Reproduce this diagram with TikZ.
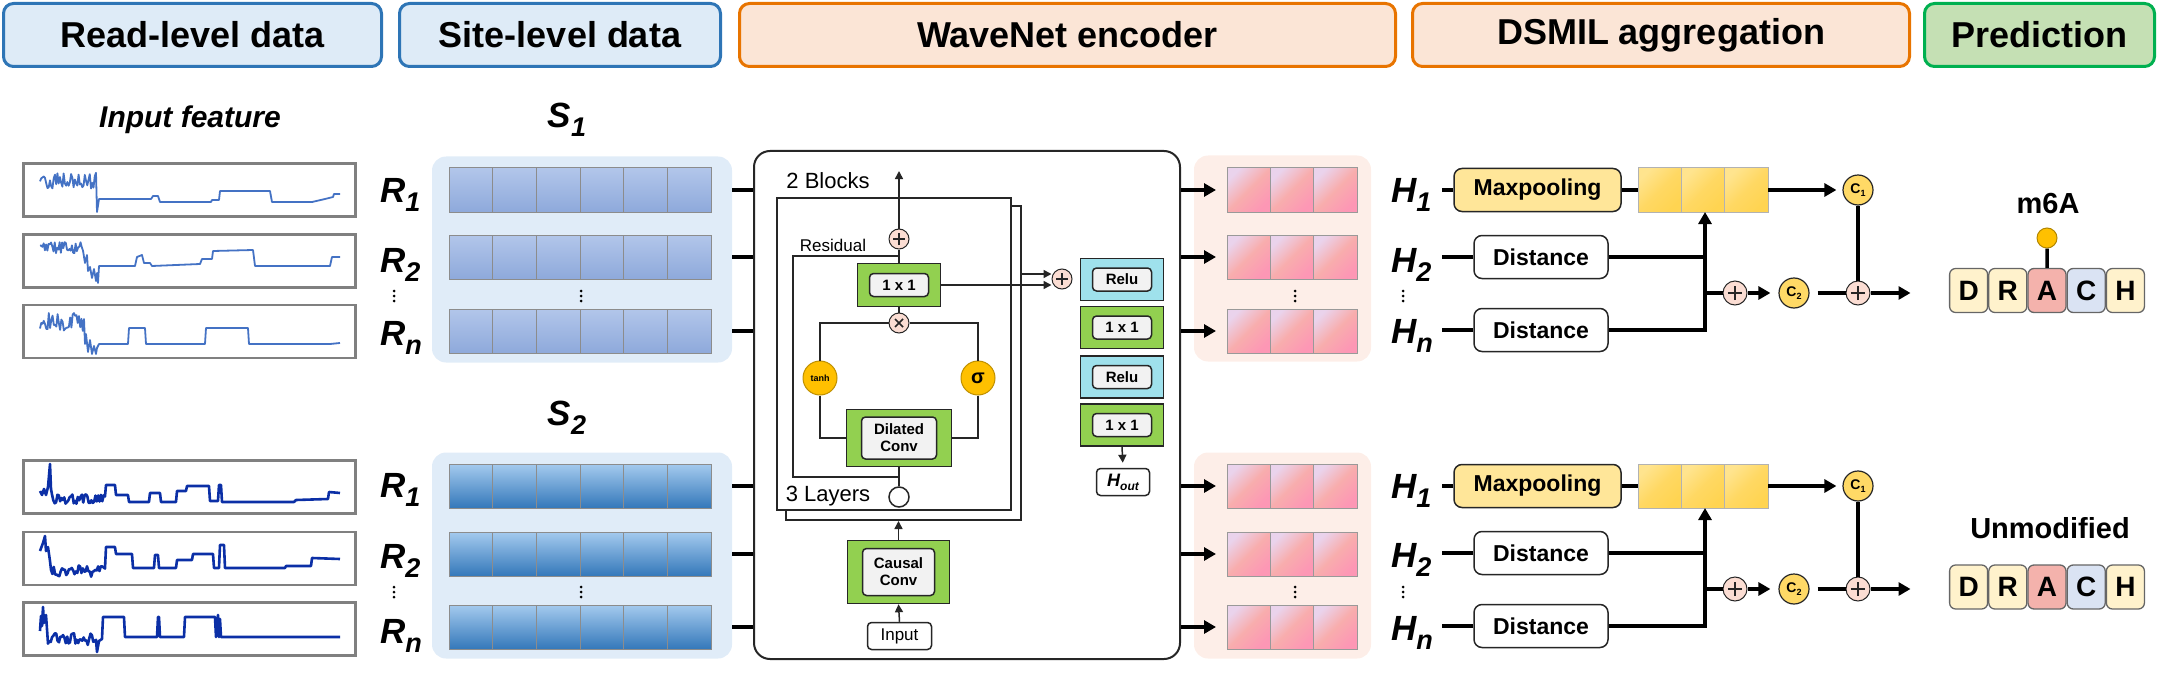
\documentclass[tikz,border=0pt]{standalone}
\usepackage{fontspec}
\setmainfont{Liberation Sans}
\usetikzlibrary{arrows.meta}

\definecolor{hdrblue}{HTML}{2E75B6}
\definecolor{hdrbluebg}{HTML}{DEEBF7}
\definecolor{hdrorange}{HTML}{E87400}
\definecolor{hdrorangebg}{HTML}{FBE5D6}
\definecolor{hdrgreen}{HTML}{00B050}
\definecolor{hdrgreenbg}{HTML}{C5E0B4}
\definecolor{sitebg}{HTML}{E0ECF8}
\definecolor{hidbg}{HTML}{FDEEE8}
\definecolor{cellupT}{HTML}{B2C6EA}
\definecolor{cellupB}{HTML}{8EA9DB}
\definecolor{celllowT}{HTML}{A4CAEE}
\definecolor{celllowB}{HTML}{3478BA}
\definecolor{pinkT}{HTML}{EAD3EC}
\definecolor{pinkM}{HTML}{F8ADAD}
\definecolor{pinkB}{HTML}{FD97B5}
\definecolor{yelT}{HTML}{FFE48E}
\definecolor{yelM}{HTML}{FFD863}
\definecolor{yelB}{HTML}{FFD451}
\definecolor{convgreen}{HTML}{92D050}
\definecolor{relucyan}{HTML}{9FE1EC}
\definecolor{gate}{HTML}{FFC000}
\definecolor{opfill}{HTML}{FBDDD3}
\definecolor{sigblue}{HTML}{4472C4}
\definecolor{signavy}{HTML}{0B2FA6}
\definecolor{maxfill}{HTML}{FFE699}
\definecolor{cfill}{HTML}{FFD966}
\definecolor{baseY}{HTML}{FFF2CC}
\definecolor{baseR}{HTML}{F4B2AC}
\definecolor{baseB}{HTML}{DAE3F3}

\newcommand{\rlab}[2]{{\fontsize{35}{35}\selectfont\bfseries\itshape #1\raisebox{-9pt}{\fontsize{27}{27}\selectfont #2}}}
\newcommand{\clab}[1]{{\fontsize{14}{14}\selectfont\bfseries C\raisebox{-3pt}{\fontsize{9}{9}\selectfont #1}}}

\tikzset{
  header/.style 2 args={draw=#1, fill=#2, line width=3pt, rounded corners=10pt,
    minimum height=63pt, inner sep=0pt, font=\fontsize{36}{36}\selectfont\bfseries},
  readbox/.style={draw=black!50, line width=2.2pt, minimum width=332pt, minimum height=53pt, inner sep=0pt},
  sigline/.style={line width=#1, line join=round},
  panel/.style 2 args={fill=#1, rounded corners=14pt, minimum width=#2, minimum height=206pt, inner sep=0pt},
  bluecell/.style 2 args={draw=black!45, line width=1pt, top color=#1, bottom color=#2},
  pinkcell/.style={draw=black!40, line width=1pt, top color=pinkT, bottom color=pinkB, middle color=pinkM, shading angle=45},
  yelcell/.style={draw=black!30, line width=1pt, top color=yelT, bottom color=yelB, middle color=yelM, shading angle=45},
  thickline/.style={line width=3.5pt},
  thickarrow/.style={line width=3.5pt, -{Triangle[length=12pt,width=13pt]}},
  wire/.style={line width=1.5pt, draw=black!85},
  wirearrow/.style={wire, -{Triangle[length=8pt,width=8pt]}},
  block/.style={draw=black!85, line width=2pt, fill=white, inner sep=0pt},
  convbox/.style 2 args={draw=black!85, line width=1.5pt, fill=convgreen, minimum width=#1, minimum height=#2, inner sep=0pt},
  relubox/.style 2 args={draw=black!85, line width=1.5pt, fill=relucyan, minimum width=#1, minimum height=#2, inner sep=0pt},
  innerbox/.style 2 args={draw=black!85, line width=1.5pt, fill=black!5, rounded corners=4pt, minimum width=#1,
    minimum height=#2, inner sep=0pt, align=center, font=\fontsize{15}{17}\selectfont\bfseries},
  plusop/.style={circle, draw=black!85, line width=1pt, fill=opfill, minimum size=#1, inner sep=0pt,
    path picture={\draw[line width=1.5pt]
      ([xshift=-0.3*#1]path picture bounding box.center) -- ([xshift=0.3*#1]path picture bounding box.center)
      ([yshift=-0.3*#1]path picture bounding box.center) -- ([yshift=0.3*#1]path picture bounding box.center);}},
  timesop/.style={circle, draw=black!85, line width=1pt, fill=opfill, minimum size=#1, inner sep=0pt,
    path picture={\draw[line width=1.5pt]
      ([shift={(-0.2*#1,-0.2*#1)}]path picture bounding box.center) -- ([shift={(0.2*#1,0.2*#1)}]path picture bounding box.center)
      ([shift={(-0.2*#1,0.2*#1)}]path picture bounding box.center) -- ([shift={(0.2*#1,-0.2*#1)}]path picture bounding box.center);}},
  gatecirc/.style={circle, draw=gate!75!black, line width=1pt, fill=gate, minimum size=34pt, inner sep=0pt},
  ccirc/.style={circle, draw=black!85, line width=1.2pt, fill=cfill, minimum size=30pt, inner sep=0pt},
  dsbox/.style 2 args={draw=black!85, line width=1.5pt, fill=#1, rounded corners=8pt, minimum width=#2,
    minimum height=43pt, inner sep=0pt, font=\fontsize{23}{23}\selectfont\bfseries},
  basebox/.style={draw=black!60, line width=1.3pt, fill=#1, rounded corners=6pt, minimum width=38pt,
    minimum height=44pt, inner sep=0pt, font=\fontsize{28}{28}\selectfont\bfseries},
  dotsv/.style={minimum width=5pt, minimum height=16pt, inner sep=0pt,
    path picture={\fill (path picture bounding box.center) circle (1.5pt)
      ([yshift=5pt]path picture bounding box.center) circle (1.5pt)
      ([yshift=-5pt]path picture bounding box.center) circle (1.5pt);}},
  enctext/.style={font=\fontsize{22}{22}\selectfont, inner sep=0pt},
}

\begin{document}
\begin{tikzpicture}[x=1pt, y=-1pt]
\useasboundingbox (0,0) rectangle (2158,674);
\pgfmathsetseed{11}

% headers
\node[header={hdrblue}{hdrbluebg}, minimum width=378pt] (hdrread) at (192.5,35) {Read-level data};
\node[header={hdrblue}{hdrbluebg}, minimum width=321pt] (hdrsite) at (560,35) {Site-level data};
\node[header={hdrorange}{hdrorangebg}, minimum width=656pt] (hdrenc) at (1067.5,35) {WaveNet encoder};
\node[header={hdrorange}{hdrorangebg}, minimum width=497pt] (hdrdsmil) at (1661,35) {DSMIL aggregation};
\node[header={hdrgreen}{hdrgreenbg}, minimum width=230pt] (hdrpred) at (2039.5,35) {Prediction};

% read-level signals
\node[font=\fontsize{30}{30}\selectfont\bfseries\itshape, inner sep=0pt] (infeat) at (190,120) {Input feature};
\node[readbox] (rd1a) at (189.5,190) {};
\node[readbox] (rd1b) at (189.5,261) {};
\node[readbox] (rd1n) at (189.5,331.5) {};
\node[readbox] (rd2a) at (189.5,487) {};
\node[readbox] (rd2b) at (189.5,558.5) {};
\node[readbox] (rd2n) at (189.5,629) {};

\begin{scope}[shift={(0,162)}]
\draw[sigline=1.8pt, draw=sigblue] plot[domain=40:96, samples=46] (\x,{19+9*rand}) -- (97,50) -- (99,37) -- (151,37) -- (153,34) -- (158,34) -- (160,40) -- (211,40) -- (212,38) -- (219,38) -- (220,29) -- (270,29) -- (272,40) -- (312,40) -- (325,37) -- (333,35) -- (334,32) -- (340,32);
\end{scope}
\begin{scope}[shift={(0,233)}]
\draw[sigline=1.8pt, draw=sigblue] plot[domain=40:83, samples=36] (\x,{15+6*rand}) -- (85,30) -- (87,22) -- (88,38) -- (90,34) -- (92,45) -- (94,36) -- (96,48) -- (97,40) -- (98,50) -- (99,33) -- (135,33) -- (137,24) -- (142,22) -- (144,30) -- (150,30) -- (152,33) -- (200,31) -- (202,26) -- (212,26) -- (213,18) -- (253,17) -- (255,33) -- (330,33) -- (332,24) -- (340,24);
\end{scope}
\begin{scope}[shift={(0,304)}]
\draw[sigline=1.8pt, draw=sigblue] plot[domain=40:84, samples=36] (\x,{18+9*rand}) -- (85,40) -- (86,30) -- (88,48) -- (90,36) -- (92,50) -- (94,42) -- (96,50) -- (97,44) -- (99,40) -- (128,40) -- (129,24) -- (145,24) -- (146,40) -- (205,40) -- (206,24) -- (248,24) -- (249,40) -- (330,40) -- (340,39);
\end{scope}
\begin{scope}[shift={(0,459)}]
\draw[sigline=2.6pt, draw=signavy] (40,32) -- (42,36) -- (44,30) -- (46,36) -- (48,28) -- (50,5) -- (51,30) -- plot[domain=52:105, samples=40] (\x,{40+5*rand}) -- (106,26) -- (115,26) -- (116,36) -- (128,36) -- (129,43) -- (149,43) -- (150,34) -- (160,34) -- (161,43) -- (176,43) -- (177,32) -- (186,32) -- (187,27) -- (209,27) -- (210,42) -- (218,42) -- (219,26) -- (221,26) -- (222,43) -- (294,43) -- (296,41) -- (328,40) -- (329,33) -- (340,34);
\end{scope}
\begin{scope}[shift={(0,531)}]
\draw[sigline=2.6pt, draw=signavy] (40,20) -- (43,12) -- (45,5) -- (46,20) -- (48,16) -- (50,30) -- plot[domain=51:105, samples=40] (\x,{40+6*rand}) -- (106,16) -- (115,16) -- (116,23) -- (132,23) -- (133,37) -- (154,37) -- (155,24) -- (158,24) -- (159,37) -- (176,37) -- (177,29) -- (192,29) -- (193,23) -- (213,23) -- (214,37) -- (219,37) -- (220,14) -- (224,14) -- (225,37) -- (285,37) -- (286,35) -- (311,35) -- (312,27) -- (340,28);
\end{scope}
\begin{scope}[shift={(0,601)}]
\draw[sigline=2.6pt, draw=signavy] (40,30) -- (41,15) -- (42,25) -- (43,6) -- (44,22) -- (46,14) -- (47,28) -- plot[domain=48:96, samples=36] (\x,{38+6*rand}) -- (97,51) -- (99,40) -- (102,38) -- (103,16) -- (124,16) -- (125,36) -- (157,36) -- (158,16) -- (159,16) -- (160,36) -- (184,36) -- (185,16) -- (215,16) -- (216,36) -- (218,14) -- (219,36) -- (220,18) -- (221,36) -- (340,36);
\end{scope}

\node[anchor=base west, inner sep=0pt] (r1a) at (380,202) {\rlab{R}{1}};
\node[anchor=base west, inner sep=0pt] (r1b) at (380,272) {\rlab{R}{2}};
\node[dotsv] (rdots1) at (394,296) {};
\node[anchor=base west, inner sep=0pt] (r1n) at (380,345) {\rlab{R}{n}};
\node[anchor=base west, inner sep=0pt] (r2a) at (380,497) {\rlab{R}{1}};
\node[anchor=base west, inner sep=0pt] (r2b) at (380,568) {\rlab{R}{2}};
\node[dotsv] (rdots2) at (394,592) {};
\node[anchor=base west, inner sep=0pt] (r2n) at (380,643) {\rlab{R}{n}};

% site-level data
\node[anchor=base, inner sep=0pt] (s1lbl) at (567,128) {\rlab{S}{1}};
\node[anchor=base, inner sep=0pt] (s2lbl) at (567,425) {\rlab{S}{2}};
\node[panel={sitebg}{300pt}] (site1) at (582,259.5) {};
\node[panel={sitebg}{300pt}] (site2) at (582,555.5) {};
\foreach \yy/\nm in {168/s1a, 235/s1b, 309/s1n}{
  \foreach \i in {0,...,5}
    \draw[bluecell={cellupT}{cellupB}] ({449+43.67*\i},\yy) rectangle ++(43.67,44);
  \coordinate (\nm) at (580,\yy+22);
}
\foreach \yy/\nm in {464/s2a, 532/s2b, 605/s2n}{
  \foreach \i in {0,...,5}
    \draw[bluecell={celllowT}{celllowB}] ({449+43.67*\i},\yy) rectangle ++(43.67,44);
  \coordinate (\nm) at (580,\yy+22);
}
\node[dotsv] (sdots1) at (581,296) {};
\node[dotsv] (sdots2) at (581,592) {};

% wavenet encoder
\node[draw=black!85, line width=2pt, rounded corners=16pt, minimum width=426pt, minimum height=508pt, inner sep=0pt, fill=white] (enc) at (967,405) {};
\foreach \nm in {s1a,s1b,s1n,s2a,s2b,s2n}
  \draw[thickline] (site1.east |- \nm) -- (enc.west |- \nm);

\node[block, minimum width=235pt, minimum height=314pt] (blkback) at (903.5,363) {};
\node[block, minimum width=234pt, minimum height=312pt] (blkfront) at (894,354) {};
\node[enctext] (nblocks) at (828,181) {2 Blocks};
\node[plusop=20pt] (resadd) at (899,239) {};
\coordinate (blkout) at (899,171);
\draw[wirearrow] (resadd.north) -- (blkout);
\node[convbox={83pt}{43pt}] (mix) at (899,285) {};
\node[innerbox={59pt}{23pt}] (mixt) at (mix) {1 x 1};
\draw[wire] (mix.north) -- (resadd.south);
\coordinate (restop) at (899,256);
\coordinate (resbot) at (899,477);
\node[font=\fontsize{17}{17}\selectfont, inner sep=0pt] (restxt) at (833,245) {Residual};
\draw[wire] (restop) -- ++(-106,0) |- (resbot);
\node[timesop=20pt] (gatemul) at (899,323) {};
\draw[wire] (mix.south) -- (gatemul.north);
\node[gatecirc, font=\fontsize{9}{9}\selectfont\bfseries] (tanhg) at (820,378) {tanh};
\node[gatecirc, font=\fontsize{20}{20}\selectfont\bfseries] (sigg) at (978,378) {σ};
\node[convbox={105pt}{57pt}] (dil) at (899,438) {};
\node[innerbox={75pt}{42pt}] (dilt) at (dil) {Dilated\\Conv};
\draw[wire] (gatemul.west) -| (tanhg.north);
\draw[wire] (gatemul.east) -| (sigg.north);
\draw[wire] (tanhg.south) |- (dil.west);
\draw[wire] (sigg.south) |- (dil.east);
\node[circle, draw=black!85, line width=1.5pt, fill=white, minimum size=20pt, inner sep=0pt] (layin) at (899,497) {};
\draw[wire] (dil.south) -- (layin.north);
\node[enctext] (nlayers) at (828,496) {3 Layers};
\node[convbox={102pt}{63pt}] (causal) at (898.5,572) {};
\node[innerbox={72pt}{47pt}] (causalt) at (causal) {Causal\\Conv};
\draw[wirearrow] (causal.north) -- (causal.north |- blkback.south);
\node[draw=black!85, line width=1.5pt, rounded corners=4pt, minimum width=64pt, minimum height=27pt, inner sep=0pt, font=\fontsize{17}{17}\selectfont] (inp) at (899.5,636) {Input};
\draw[wirearrow] (inp.north) -- (causal.south);

\node[plusop=20pt] (skipadd) at (1062,279) {};
\draw[wirearrow] (mix.east) -- (mix.east -| skipadd.west);
\draw[wirearrow] ([yshift=5pt]blkback.east |- skipadd) -- ([yshift=5pt]skipadd.west);
\node[relubox={83pt}{42pt}] (relu1) at (1122,279.5) {};
\node[innerbox={59pt}{23pt}] (relu1t) at (relu1) {Relu};
\node[convbox={83pt}{42pt}] (outa) at (1122,327.5) {};
\node[innerbox={59pt}{23pt}] (outat) at (outa) {1 x 1};
\node[relubox={83pt}{42pt}] (relu2) at (1122,377) {};
\node[innerbox={59pt}{23pt}] (relu2t) at (relu2) {Relu};
\node[convbox={83pt}{42pt}] (outb) at (1122,425) {};
\node[innerbox={59pt}{23pt}] (outbt) at (outb) {1 x 1};
\node[draw=black!85, line width=1.5pt, rounded corners=4pt, minimum width=53pt, minimum height=27pt, inner sep=0pt] (hout) at (1123,482) {\fontsize{18}{18}\selectfont\bfseries\itshape H\raisebox{-4pt}{\fontsize{12}{12}\selectfont out}};
\draw[wirearrow, shorten >=5pt] (outb.south) -- (hout.north);

% hidden features
\node[panel={hidbg}{177pt}] (hid1) at (1282.5,258.5) {};
\node[panel={hidbg}{177pt}] (hid2) at (1282.5,555.5) {};
\foreach \yy/\nm in {168/h1a, 235/h1b, 309/h1n, 464/h2a, 532/h2b, 605/h2n}{
  \foreach \i in {0,1,2}
    \draw[pinkcell] ({1227+43.33*\i},\yy) rectangle ++(43.33,44);
  \coordinate (\nm) at (1227,\yy+22);
}
\node[dotsv] (hdots1) at (1295,296) {};
\node[dotsv] (hdots2) at (1295,592) {};
\foreach \nm in {h1a,h1b,h1n,h2a,h2b,h2n}
  \draw[thickarrow] (enc.east |- \nm) -- ([xshift=-11pt]\nm);

% dsmil aggregation
\node[anchor=base west, inner sep=0pt] (lh1a) at (1391,202) {\rlab{H}{1}};
\node[anchor=base west, inner sep=0pt] (lh1b) at (1391,272) {\rlab{H}{2}};
\node[dotsv] (ldots1) at (1403,296) {};
\node[anchor=base west, inner sep=0pt] (lh1n) at (1391,343) {\rlab{H}{n}};
\node[anchor=base west, inner sep=0pt] (lh2a) at (1391,498) {\rlab{H}{1}};
\node[anchor=base west, inner sep=0pt] (lh2b) at (1391,567) {\rlab{H}{2}};
\node[dotsv] (ldots2) at (1403,592) {};
\node[anchor=base west, inner sep=0pt] (lh2n) at (1391,640) {\rlab{H}{n}};

\node[dsbox={maxfill}{167pt}] (maxp1) at (1537.5,190) {Maxpooling};
\node[dsbox={white}{134pt}] (dist1b) at (1541,257) {Distance};
\node[dsbox={white}{134pt}] (dist1n) at (1541,330) {Distance};
\foreach \i in {0,1,2}
  \draw[yelcell] ({1638+43.33*\i},168) rectangle ++(43.33,44);
\coordinate (y1w) at (1638,190);
\coordinate (y1e) at (1768,190);
\coordinate (y1s) at (1705,212);
\coordinate (merge1) at (1705,330);
\draw[thickline] (maxp1.west) -- ++(-11,0);
\draw[thickline] (maxp1.east) -- (y1w);
\draw[thickline] (dist1b.west) -- ++(-31,0);
\draw[thickline] (dist1n.west) -- ++(-31,0);
\draw[thickline] (dist1b.east) -- (dist1b.east -| merge1);
\draw[thickarrow] (dist1n.east) -- (merge1) -- (merge1 |- y1s);
\node[plusop=24pt] (padd1) at (1735,293) {};
\node[ccirc] (c2u) at (1794,293) {\clab{2}};
\node[ccirc] (c1u) at (1858,190) {\clab{1}};
\node[plusop=24pt] (pfin1) at (1858,293) {};
\draw[thickline] (merge1 |- padd1) -- (padd1.west);
\draw[thickarrow, shorten >=8pt] (padd1.east) -- (c2u.west);
\draw[thickarrow, shorten >=6pt] (y1e) -- (c1u.west);
\draw[thickline, shorten <=8pt] (c2u.east) -- (pfin1.west);
\draw[thickline] (c1u.south) -- (pfin1.north);
\draw[thickarrow] (pfin1.east) -- ++(40,0);

\node[dsbox={maxfill}{167pt}] (maxp2) at (1537.5,486) {Maxpooling};
\node[dsbox={white}{134pt}] (dist2b) at (1541,553) {Distance};
\node[dsbox={white}{134pt}] (dist2n) at (1541,626) {Distance};
\foreach \i in {0,1,2}
  \draw[yelcell] ({1638+43.33*\i},464) rectangle ++(43.33,44);
\coordinate (y2w) at (1638,486);
\coordinate (y2e) at (1768,486);
\coordinate (y2s) at (1705,508);
\coordinate (merge2) at (1705,626);
\draw[thickline] (maxp2.west) -- ++(-11,0);
\draw[thickline] (maxp2.east) -- (y2w);
\draw[thickline] (dist2b.west) -- ++(-31,0);
\draw[thickline] (dist2n.west) -- ++(-31,0);
\draw[thickline] (dist2b.east) -- (dist2b.east -| merge2);
\draw[thickarrow] (dist2n.east) -- (merge2) -- (merge2 |- y2s);
\node[plusop=24pt] (padd2) at (1735,589) {};
\node[ccirc] (c2l) at (1794,589) {\clab{2}};
\node[ccirc] (c1l) at (1858,486) {\clab{1}};
\node[plusop=24pt] (pfin2) at (1858,589) {};
\draw[thickline] (merge2 |- padd2) -- (padd2.west);
\draw[thickarrow, shorten >=8pt] (padd2.east) -- (c2l.west);
\draw[thickarrow, shorten >=6pt] (y2e) -- (c1l.west);
\draw[thickline, shorten <=8pt] (c2l.east) -- (pfin2.west);
\draw[thickline] (c1l.south) -- (pfin2.north);
\draw[thickarrow] (pfin2.east) -- ++(40,0);

% prediction
\node[font=\fontsize{29}{29}\selectfont\bfseries, inner sep=0pt] (m6a) at (2048,204) {m6A};
\foreach \b/\c [count=\k] in {D/baseY,R/baseY,A/baseR,C/baseB,H/baseY}
  \node[basebox=\c] (up\b) at ({1929.4+39.2*\k},290.5) {\b};
\node[circle, fill=gate, draw=gate!70!black, line width=1pt, minimum size=20pt, inner sep=0pt] (mark1) at (2047,238) {};
\draw[line width=3.5pt] (mark1.south) -- (upA.north);

\node[font=\fontsize{29}{29}\selectfont\bfseries, inner sep=0pt] (unmod) at (2050,528) {Unmodified};
\foreach \b/\c [count=\k] in {D/baseY,R/baseY,A/baseR,C/baseB,H/baseY}
  \node[basebox=\c] (low\b) at ({1929.4+39.2*\k},587) {\b};
\end{tikzpicture}
\end{document}
